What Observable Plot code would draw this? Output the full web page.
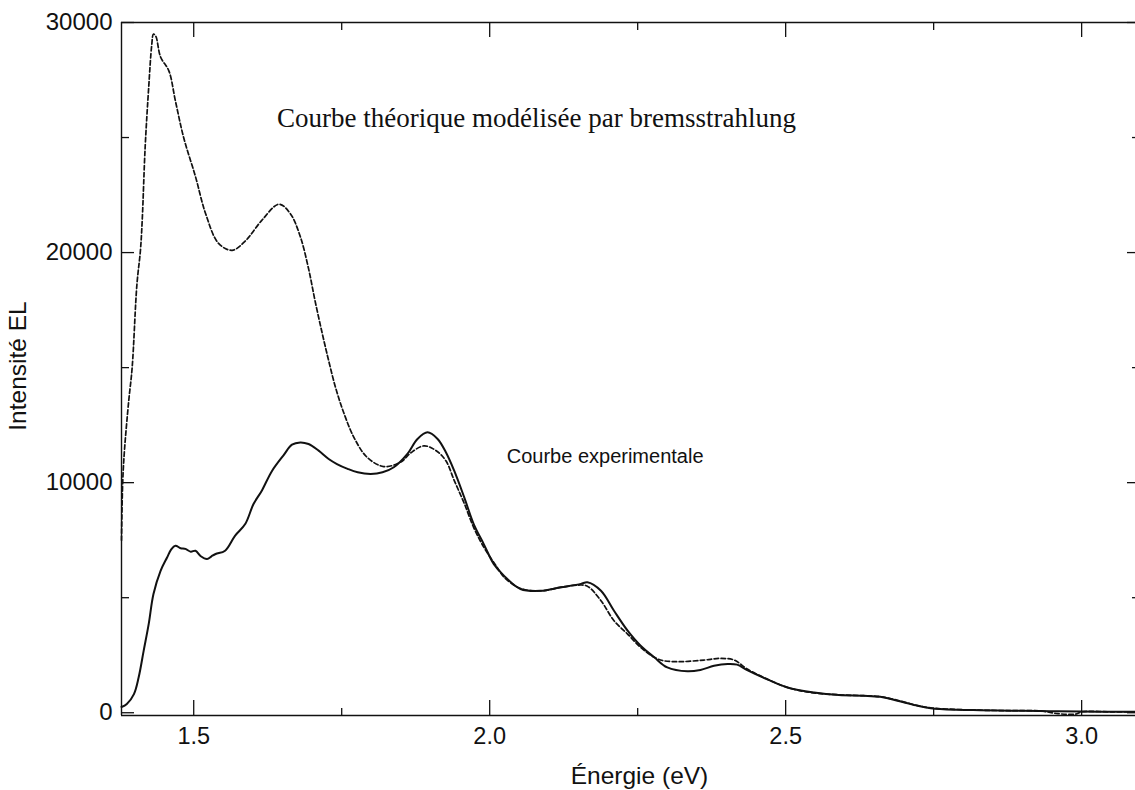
<!DOCTYPE html>
<html>
<head>
<meta charset="utf-8">
<script src="https://cdn.jsdelivr.net/npm/d3@7"></script>
<script src="https://cdn.jsdelivr.net/npm/@observablehq/plot@0.6"></script>
<style>
  html, body { margin: 0; padding: 0; background: #fff; }
  #chart { position: absolute; left: 0; top: 0; }
</style>
</head>
<body>
<div id="chart"></div>
<script>
// Theoretical curve (bremsstrahlung model) — dashed
const theoEnergy = [1.378,1.380,1.383,1.390,1.396,1.404,1.410,1.413,1.418,1.424,1.429,1.432,1.436,1.444,1.458,1.469,1.483,1.503,1.520,1.542,1.565,1.587,1.615,1.644,1.663,1.680,1.694,1.705,1.717,1.728,1.740,1.754,1.771,1.793,1.821,1.850,1.867,1.889,1.909,1.926,1.940,1.957,1.973,1.990,2.013,2.024,2.052,2.086,2.120,2.150,2.165,2.188,2.210,2.233,2.255,2.278,2.294,2.323,2.362,2.390,2.413,2.435,2.469,2.503,2.542,2.590,2.632,2.660,2.689,2.720,2.745,2.790,2.829,2.880,2.930,2.960,2.990,3.000,3.050,3.090];
const theoIntensity = [7500,10000,11400,13500,15000,18600,20100,21400,24600,27200,29000,29500,29400,28500,27900,26600,25000,23300,21700,20400,20100,20500,21400,22100,21700,20700,19300,17900,16500,15300,14100,13000,11950,11100,10700,10900,11300,11600,11400,10950,10100,9100,8050,7200,6300,5900,5400,5300,5450,5550,5500,4870,4000,3420,2840,2410,2260,2220,2290,2360,2290,1900,1460,1100,880,780,740,700,540,330,210,140,110,90,80,-40,-60,40,40,40];

// Experimental curve — solid
const expEnergy = [1.378,1.387,1.399,1.407,1.4155,1.424,1.432,1.444,1.455,1.462,1.469,1.478,1.486,1.495,1.503,1.512,1.5225,1.530,1.537,1.553,1.570,1.587,1.601,1.615,1.632,1.652,1.666,1.680,1.694,1.711,1.728,1.742,1.760,1.777,1.799,1.819,1.838,1.861,1.878,1.895,1.912,1.926,1.940,1.957,1.973,1.990,2.007,2.024,2.052,2.086,2.120,2.154,2.165,2.188,2.210,2.233,2.255,2.278,2.300,2.334,2.356,2.379,2.402,2.418,2.435,2.469,2.503,2.548,2.590,2.632,2.660,2.689,2.720,2.745,2.790,2.829,2.880,2.930,2.960,3.000,3.050,3.090];
const expIntensity = [250,380,810,1540,2700,3860,5160,6170,6750,7100,7260,7150,7120,7000,7040,6800,6680,6800,6900,7040,7700,8200,9070,9650,10500,11200,11650,11750,11680,11390,11030,10810,10600,10450,10380,10450,10670,11250,11900,12190,11900,11320,10520,9360,8200,7330,6460,5960,5380,5300,5450,5600,5670,5300,4430,3565,2910,2410,1970,1800,1860,2040,2120,2090,1850,1450,1100,880,770,740,690,520,320,200,130,110,90,80,60,50,45,45];

// Axes
const xDomain = [1.378, 3.091];
const yDomain = [-120, 30000];
const xMajorTicks = [1.5, 2.0, 2.5, 3.0];
const xMinorTicks = [1.75, 2.25, 2.75];
const yMajorTicks = [0, 10000, 20000, 30000];
const yMinorTicks = [5000, 15000, 25000];
const xTitle = "Énergie (eV)";
const yTitle = "Intensité EL";

// Annotations
const annotLabels = ["Courbe théorique modélisée par bremsstrahlung", "Courbe experimentale"];
const annotEnergy = [2.079, 2.195];
const annotIntensity = [25830, 11130];

const theo = theoEnergy.map((e, i) => ({e, v: theoIntensity[i]}));
const exp = expEnergy.map((e, i) => ({e, v: expIntensity[i]}));

const W = 1135, H = 790;
const mTop = 22, mBottom = 75, mLeft = 121, mRight = 0;
const frameH = H - mTop - mBottom;
const frameW = W - mLeft - mRight;
const sans = "'Liberation Sans', Arial, Helvetica, sans-serif";
const serif = "'Liberation Serif', 'Times New Roman', serif";
const ink = "#111";

const chart = Plot.plot({
  width: W,
  height: H,
  marginTop: mTop,
  marginBottom: mBottom,
  marginLeft: mLeft,
  marginRight: mRight,
  style: {fontFamily: sans, fontSize: "23px", color: ink, background: "#fff", overflow: "visible"},
  x: {domain: xDomain},
  y: {domain: yDomain},
  marks: [
    // frame lines (left, bottom, top)
    Plot.ruleX([xDomain[0]], {stroke: ink, strokeWidth: 1.4}),
    Plot.ruleY([yDomain[0]], {stroke: ink, strokeWidth: 1.4}),
    Plot.ruleY([yDomain[1]], {stroke: ink, strokeWidth: 1.4}),
    // inward ticks: bottom
    Plot.tickX(xMajorTicks, {x: d => d, insetTop: frameH - 15, stroke: ink, strokeWidth: 1.3}),
    Plot.tickX(xMinorTicks, {x: d => d, insetTop: frameH - 7, stroke: ink, strokeWidth: 1.3}),
    // top
    Plot.tickX(xMajorTicks, {x: d => d, insetBottom: frameH - 15, stroke: ink, strokeWidth: 1.3}),
    Plot.tickX(xMinorTicks, {x: d => d, insetBottom: frameH - 8, stroke: ink, strokeWidth: 1.3}),
    // left
    Plot.tickY(yMajorTicks, {y: d => d, insetRight: frameW - 13, stroke: ink, strokeWidth: 1.3}),
    Plot.tickY(yMinorTicks, {y: d => d, insetRight: frameW - 8, stroke: ink, strokeWidth: 1.3}),
    // right
    Plot.tickY(yMajorTicks, {y: d => d, insetLeft: frameW - 8, stroke: ink, strokeWidth: 1.3}),
    Plot.tickY(yMinorTicks, {y: d => d, insetLeft: frameW - 3, stroke: ink, strokeWidth: 1.3}),
    // tick labels
    Plot.axisX({ticks: xMajorTicks, tickFormat: d3.format(".1f"), tickSize: 0, tickPadding: 12, label: null, fontSize: 23.5, fill: ink}),
    Plot.axisY({ticks: yMajorTicks, tickFormat: d => String(d), tickSize: 0, tickPadding: 9, label: null, fontSize: 24, fill: ink}),
    // axis titles
    Plot.text([xTitle], {text: d => d, frameAnchor: "bottom", lineAnchor: "middle", dy: 61, dx: 11, fontSize: 24.5, fill: ink, fontFamily: sans}),
    Plot.text([yTitle], {text: d => d, frameAnchor: "left", textAnchor: "middle", lineAnchor: "middle", rotate: -90, dx: -103, dy: -3, fontSize: 24.5, fill: ink, fontFamily: sans}),
    // curves
    Plot.line(theo, {x: "e", y: "v", stroke: ink, strokeWidth: 1.7, strokeDasharray: "4.5,2.5", curve: "catmull-rom"}),
    Plot.line(exp, {x: "e", y: "v", stroke: ink, strokeWidth: 2, curve: "catmull-rom"}),
    // annotations
    Plot.text([0], {x: annotEnergy[0], y: annotIntensity[0], text: () => annotLabels[0], fontFamily: serif, fontSize: 27, fill: ink}),
    Plot.text([1], {x: annotEnergy[1], y: annotIntensity[1], text: () => annotLabels[1], fontFamily: sans, fontSize: 20, fill: ink})
  ]
});
document.getElementById("chart").appendChild(chart);
</script>
</body>
</html>
